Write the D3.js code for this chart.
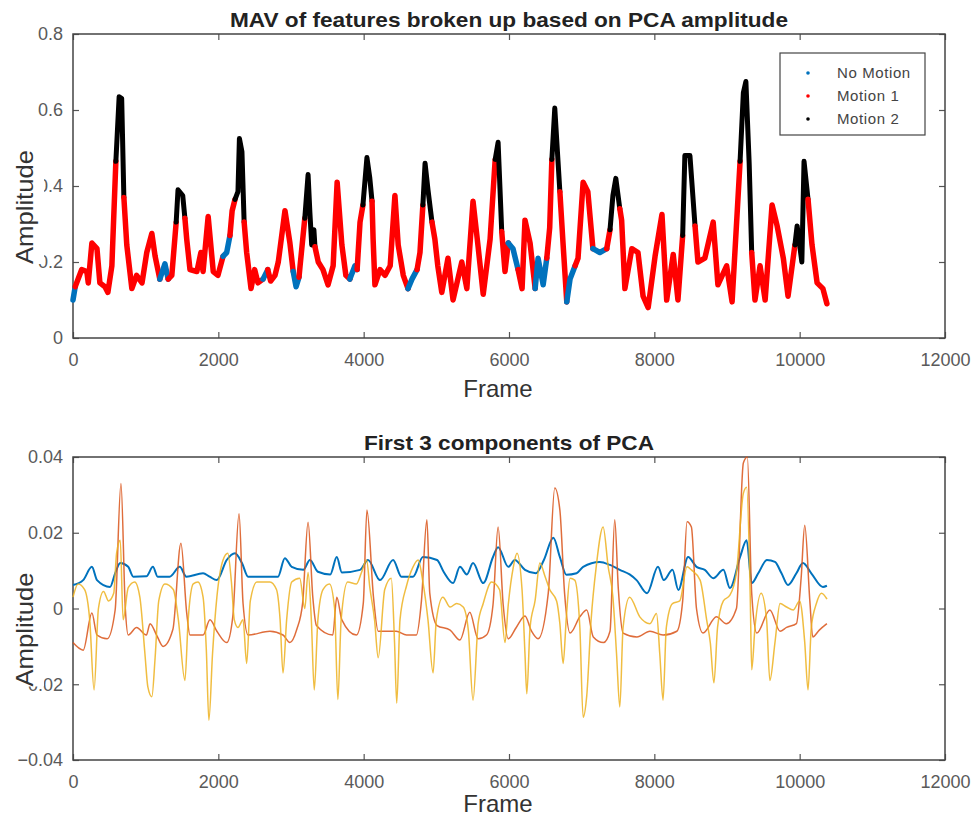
<!DOCTYPE html>
<html>
<head>
<meta charset="utf-8">
<script src="https://cdn.jsdelivr.net/npm/d3@7"></script>
<style>
body { margin: 0; background: #fff; }
svg { font-family: "Liberation Sans", Arial, sans-serif; }
</style>
</head>
<body>
<div id="chart"></div>
<script>
// x ticks shared by both panels
var xTicks = [0, 2000, 4000, 6000, 8000, 10000, 12000];
var topTicks = [0, 0.2, 0.4, 0.6, 0.8];
var botTicks = [-0.04, -0.02, 0, 0.02, 0.04];

var legendLabels = ['No Motion', 'Motion 1', 'Motion 2'];
var classColors = ['#0072BD', '#ff0000', '#000000'];

// [frame, MAV, class] class: 0 no motion, 1 motion 1, 2 motion 2 (class of the run that starts here)
var mavSeries = [
  [0,0.10,0],[30,0.135,1],[120,0.18,1],[190,0.175,1],[210,0.145,1],[260,0.25,1],[330,0.235,1],
  [370,0.145,1],[440,0.135,1],[480,0.12,1],[535,0.19,1],[590,0.465,2],[635,0.635,2],[670,0.63,2],
  [700,0.37,1],[740,0.245,1],[810,0.13,1],[875,0.165,1],[950,0.145,1],[1015,0.225,1],[1085,0.275,1],
  [1130,0.215,1],[1195,0.155,0],[1265,0.195,0],[1310,0.155,1],[1360,0.165,1],[1420,0.305,2],
  [1445,0.39,2],[1510,0.375,2],[1540,0.315,1],[1565,0.26,1],[1610,0.18,1],[1705,0.175,1],
  [1760,0.225,1],[1790,0.175,1],[1860,0.32,1],[1930,0.175,1],[1995,0.165,1],[2065,0.215,0],
  [2115,0.225,0],[2160,0.27,1],[2190,0.335,1],[2230,0.365,2],[2270,0.385,2],[2290,0.525,2],
  [2325,0.49,2],[2355,0.305,1],[2390,0.225,1],[2450,0.13,1],[2500,0.18,1],[2545,0.145,1],
  [2615,0.155,0],[2680,0.18,1],[2720,0.15,1],[2780,0.165,1],[2825,0.2,1],[2917,0.335,1],
  [2985,0.25,1],[3030,0.175,0],[3070,0.135,0],[3110,0.16,1],[3125,0.19,1],[3190,0.315,2],
  [3235,0.43,2],[3260,0.33,2],[3285,0.245,2],[3315,0.285,2],[3330,0.24,1],[3375,0.2,1],
  [3440,0.18,1],[3510,0.14,1],[3580,0.19,1],[3635,0.41,1],[3700,0.245,1],[3755,0.165,1],
  [3810,0.155,0],[3880,0.19,0],[3910,0.18,1],[3950,0.305,1],[3990,0.35,2],[4045,0.475,2],
  [4085,0.42,2],[4115,0.36,1],[4130,0.26,1],[4155,0.14,1],[4225,0.18,1],[4295,0.165,1],
  [4365,0.19,1],[4430,0.375,1],[4475,0.245,1],[4545,0.165,1],[4610,0.13,0],[4665,0.155,0],
  [4735,0.18,1],[4775,0.225,1],[4815,0.35,2],[4845,0.46,2],[4885,0.39,2],[4940,0.305,1],
  [4980,0.26,1],[5020,0.19,1],[5075,0.12,1],[5160,0.21,1],[5230,0.10,1],[5350,0.2,1],
  [5420,0.13,1],[5505,0.36,1],[5575,0.24,1],[5645,0.115,1],[5740,0.26,1],[5810,0.47,2],
  [5850,0.515,2],[5900,0.28,1],[5945,0.175,1],[5990,0.25,0],[6055,0.235,0],[6125,0.18,1],
  [6180,0.13,1],[6220,0.31,1],[6290,0.25,1],[6360,0.13,0],[6400,0.21,0],[6470,0.14,0],
  [6520,0.21,1],[6560,0.29,1],[6590,0.47,2],[6630,0.605,2],[6700,0.385,1],[6740,0.26,1],
  [6795,0.095,0],[6840,0.155,0],[6910,0.19,1],[6950,0.21,1],[7020,0.41,1],[7085,0.385,1],
  [7155,0.235,0],[7250,0.225,0],[7345,0.235,1],[7390,0.285,2],[7430,0.375,2],[7470,0.42,2],
  [7525,0.34,1],[7550,0.31,1],[7595,0.13,1],[7690,0.235,1],[7775,0.225,1],[7845,0.11,1],
  [7915,0.08,1],[8010,0.215,1],[8105,0.325,1],[8170,0.10,1],[8260,0.22,1],[8325,0.10,1],
  [8390,0.27,2],[8420,0.48,2],[8490,0.48,2],[8560,0.295,1],[8600,0.2,1],[8695,0.21,1],
  [8810,0.305,1],[8875,0.14,1],[8995,0.19,1],[9070,0.095,1],[9180,0.465,2],[9225,0.645,2],
  [9260,0.675,2],[9305,0.46,2],[9340,0.225,1],[9385,0.10,1],[9455,0.19,1],[9525,0.10,1],
  [9620,0.35,1],[9690,0.295,1],[9775,0.21,1],[9840,0.11,1],[9935,0.245,2],[9965,0.295,2],
  [10030,0.20,2],[10060,0.465,2],[10115,0.365,1],[10170,0.245,1],[10240,0.145,1],
  [10320,0.13,1],[10375,0.09,1]
];

// [frame, value] first 3 PCA components
var pc1 = [
  [0,0.0062],[140,0.0075],[260,0.011],[330,0.0075],[510,0.0057],[580,0.0093],[650,0.012],[760,0.011],
  [830,0.0084],[1010,0.0085],[1100,0.011],[1165,0.0084],[1330,0.0084],[1470,0.011],[1560,0.0084],
  [1790,0.0093],[1880,0.0084],[1980,0.0075],[2115,0.0128],[2230,0.0146],[2325,0.012],[2410,0.0084],
  [2710,0.0084],[2820,0.0084],[2915,0.0133],[3010,0.011],[3170,0.0102],[3260,0.0128],[3370,0.0097],
  [3540,0.009],[3630,0.0136],[3700,0.0095],[3950,0.0102],[4060,0.0128],[4225,0.0075],[4405,0.0128],
  [4520,0.0084],[4680,0.0084],[4815,0.0136],[5010,0.0128],[5100,0.0097],[5230,0.0067],[5325,0.011],
  [5420,0.009],[5505,0.012],[5645,0.0067],[5780,0.0136],[5850,0.0162],[5990,0.011],[6080,0.0128],
  [6220,0.0102],[6370,0.0093],[6480,0.0128],[6610,0.0187],[6700,0.0136],[6790,0.0089],[6930,0.0093],
  [7020,0.011],[7250,0.0123],[7390,0.0115],[7525,0.0102],[7660,0.009],[7755,0.0075],[7900,0.004],
  [8050,0.011],[8130,0.0075],[8250,0.0102],[8330,0.0049],[8465,0.0136],[8580,0.011],[8695,0.0102],
  [8810,0.008],[8950,0.0102],[9040,0.0054],[9180,0.0136],[9270,0.018],[9340,0.0067],[9430,0.0093],
  [9550,0.0128],[9660,0.0123],[9750,0.0093],[9840,0.0062],[9955,0.0093],[10045,0.012],[10160,0.0093],
  [10320,0.0057],[10375,0.006]
];
var pc2 = [
  [0,-0.009],[140,-0.011],[260,-0.0012],[330,-0.007],[470,-0.008],[580,-0.0004],[660,0.033],[720,0],
  [760,-0.007],[875,-0.005],[1010,-0.007],[1060,-0.004],[1150,-0.007],[1240,-0.010],[1375,-0.0055],
  [1485,0.0172],[1565,-0.0012],[1610,-0.007],[1790,-0.007],[1885,-0.003],[1980,-0.006],[2115,-0.009],
  [2200,-0.002],[2285,0.025],[2340,0.0014],[2410,-0.007],[2710,-0.006],[2890,-0.007],[2985,-0.009],
  [3080,-0.0055],[3160,0.0014],[3235,0.0228],[3300,0.003],[3350,-0.0045],[3575,-0.007],[3630,0.003],
  [3700,-0.003],[3900,-0.007],[3995,0.0014],[4045,0.026],[4135,0.003],[4200,-0.006],[4450,-0.006],
  [4590,-0.007],[4725,-0.007],[4795,0.002],[4870,0.0234],[4910,0.004],[5010,-0.0045],[5190,-0.0057],
  [5325,-0.0083],[5460,-0.001],[5575,-0.008],[5690,-0.007],[5780,0.001],[5850,0.0215],[5920,0.001],
  [5990,-0.008],[6100,-0.005],[6220,-0.002],[6310,-0.006],[6400,-0.008],[6540,0.004],[6630,0.0318],
  [6700,0.026],[6765,0.004],[6840,-0.0065],[6975,-0.0022],[7070,-0.0004],[7160,-0.0075],[7300,-0.009],
  [7390,-0.006],[7455,0.0234],[7505,0.005],[7570,-0.0065],[7760,-0.0075],[7940,-0.006],[8120,-0.007],
  [8310,-0.006],[8390,0.002],[8450,0.0229],[8510,0.0215],[8580,0],[8670,-0.0065],[8855,-0.0022],
  [8990,-0.004],[9130,0],[9225,0.0384],[9280,0.04],[9340,0.004],[9410,-0.0065],[9590,-0.0004],
  [9730,-0.006],[9820,-0.005],[9955,-0.004],[10020,0.008],[10070,0.022],[10140,0.002],[10180,-0.0075],
  [10270,-0.0057],[10375,-0.004]
];
var pc3 = [
  [0,0.003],[70,0.0065],[160,0.005],[230,-0.003],[290,-0.0215],[350,0],[420,0.0045],[490,0.002],
  [560,0.004],[600,0.0146],[650,0.018],[690,-0.003],[760,0.0055],[850,0.007],[920,0.003],[990,-0.012],
  [1030,-0.0207],[1085,-0.0233],[1130,-0.013],[1180,0.002],[1265,0.0065],[1380,0.005],[1450,-0.003],
  [1540,-0.019],[1585,-0.003],[1655,0.0065],[1720,0.007],[1790,0.003],[1835,-0.011],[1870,-0.0295],
  [1920,-0.012],[1980,0.003],[2065,0.0128],[2130,0.0146],[2180,0.007],[2220,-0.003],[2270,-0.005],
  [2340,-0.003],[2390,-0.0145],[2440,0.002],[2530,0.007],[2710,0.007],[2800,0.005],[2850,-0.003],
  [2890,-0.017],[2940,-0.003],[3010,0.007],[3120,0.008],[3190,0],[3235,0.0095],[3280,-0.003],
  [3320,-0.0215],[3370,-0.003],[3440,0.005],[3530,0.0065],[3600,0],[3645,-0.024],[3690,-0.003],
  [3780,0.007],[3900,0.0065],[3970,0.0095],[4040,0.0128],[4085,0.0055],[4150,-0.003],[4200,-0.013],
  [4290,0.005],[4380,0.008],[4425,-0.009],[4455,-0.025],[4500,-0.003],[4590,0.006],[4680,0.011],
  [4750,0.0128],[4815,0.007],[4885,-0.003],[4955,-0.017],[5000,-0.003],[5090,0.003],[5190,0.0004],
  [5280,0.0013],[5370,0.0004],[5440,-0.0057],[5505,-0.0242],[5575,-0.004],[5645,0.0013],[5760,0.007],
  [5870,0.005],[5945,-0.009],[5990,0.001],[6060,0.011],[6110,0.0146],[6180,0.0048],[6220,-0.012],
  [6245,-0.0225],[6290,-0.005],[6360,0.0022],[6425,0.012],[6495,0.0085],[6560,0.005],[6655,0.002],
  [6700,-0.004],[6745,-0.0145],[6790,-0.002],[6840,0.008],[6905,0.0075],[6975,-0.005],[7020,-0.0287],
  [7070,-0.023],[7130,-0.003],[7200,0.011],[7295,0.0215],[7365,0.011],[7430,0.003],[7480,-0.012],
  [7525,-0.026],[7570,-0.005],[7660,0.003],[7800,-0.0022],[7940,-0.004],[8030,-0.0013],[8075,-0.012],
  [8120,-0.0242],[8165,-0.005],[8250,0.0013],[8350,0.002],[8450,0.011],[8510,0.0102],[8630,0.0075],
  [8720,-0.003],[8770,-0.009],[8820,-0.0196],[8870,-0.005],[8950,0.002],[9040,0.0035],[9130,0.0095],
  [9225,0.0304],[9270,0.032],[9320,0.003],[9340,-0.0162],[9385,-0.005],[9470,0.004],[9545,-0.003],
  [9590,-0.019],[9660,-0.009],[9730,0.0013],[9820,0.0004],[9910,-0.0004],[10000,0.002],[10070,-0.009],
  [10115,-0.0215],[10160,-0.005],[10230,0.0013],[10300,0.004],[10375,0.0025]
];
var pcColors = ['#0072BD', '#D95319', '#EDB120'];

var width = 974, height = 816;
var svg = d3.select('#chart').append('svg').attr('width', width).attr('height', height);

var x = d3.scaleLinear().domain([0, 12000]).range([73, 945]);
var yTop = d3.scaleLinear().domain([0, 0.8]).range([338, 34]);
var yBot = d3.scaleLinear().domain([-0.04, 0.04]).range([760, 457]);

function panel(y, yTicks, title, titleY, titleLen, frameY) {
  var g = svg.append('g');
  var y0 = y.range()[0], y1 = y.range()[1];

  g.append('g').attr('transform', 'translate(0,' + y0 + ')')
    .call(d3.axisBottom(x).tickValues(xTicks).tickSize(-6).tickPadding(15).tickFormat(d3.format('d')));
  g.append('g').attr('transform', 'translate(73,0)')
    .call(d3.axisLeft(y).tickValues(yTicks).tickSize(-6).tickPadding(10).tickFormat(function(d) { return d3.format('')(+d.toFixed(2)); }));
  g.append('g').attr('transform', 'translate(0,' + y1 + ')')
    .call(d3.axisTop(x).tickValues(xTicks).tickSize(-6).tickFormat(''));
  g.append('g').attr('transform', 'translate(945,0)')
    .call(d3.axisRight(y).tickValues(yTicks).tickSize(-6).tickFormat(''));
  g.selectAll('.domain').remove();
  g.selectAll('.tick line').attr('stroke', '#555').attr('stroke-width', 1.2);
  g.selectAll('.tick text').attr('font-size', 18).attr('fill', '#5a5a5a')
    .attr('font-family', '"Liberation Sans", Arial, sans-serif');

  g.append('rect').attr('x', 73).attr('y', y1).attr('width', 945 - 73).attr('height', y0 - y1)
    .attr('fill', 'none').attr('stroke', '#444').attr('stroke-width', 1.5);

  g.append('text').attr('x', 509).attr('y', titleY).attr('text-anchor', 'middle')
    .attr('font-size', 21).attr('font-weight', 'bold').attr('fill', '#222')
    .attr('textLength', titleLen).attr('lengthAdjust', 'spacingAndGlyphs').text(title);

  g.append('text').attr('x', 498).attr('y', frameY).attr('text-anchor', 'middle')
    .attr('font-size', 24).attr('fill', '#333').text('Frame');

  // y label sits a bit below the axis centre and hides the leading digits of nearby ticks
  var cy = (y0 + y1) / 2 + 21;
  var lab = g.append('text').attr('transform', 'translate(33,' + cy + ') rotate(-90)')
    .attr('text-anchor', 'middle').attr('font-size', 24).attr('fill', '#333')
    .attr('textLength', 114).attr('lengthAdjust', 'spacingAndGlyphs').text('Amplitude');
  var bb = lab.node().getBBox();
  g.insert('rect', function() { return lab.node(); })
    .attr('x', 12).attr('y', cy - bb.width / 2).attr('width', 32).attr('height', bb.width)
    .attr('fill', '#fff');
  return g;
}

var gTop = panel(yTop, topTicks, 'MAV of features broken up based on PCA amplitude', 27, 558, 397);
var gBot = panel(yBot, botTicks, 'First 3 components of PCA', 450, 290, 812);

// top: MAV split into runs of the same class
var runs = [];
mavSeries.forEach(function(p, i) {
  if (i === mavSeries.length - 1) return;
  var last = runs[runs.length - 1];
  if (last && last.c === p[2]) last.pts.push(mavSeries[i + 1]);
  else runs.push({ c: p[2], pts: [p, mavSeries[i + 1]] });
});
var lineTop = d3.line().x(function(d) { return x(d[0]); }).y(function(d) { return yTop(d[1]); });
gTop.append('g').selectAll('path').data(runs).enter().append('path')
  .attr('d', function(d) { return lineTop(d.pts); })
  .attr('fill', 'none')
  .attr('stroke', function(d) { return classColors[d.c]; })
  .attr('stroke-width', function(d) { return d.c === 2 ? 5 : 5.5; })
  .attr('stroke-linejoin', 'round').attr('stroke-linecap', 'round');

// legend
var lg = gTop.append('g');
lg.append('rect').attr('x', 780).attr('y', 53).attr('width', 145).attr('height', 82)
  .attr('fill', '#fff').attr('stroke', '#444').attr('stroke-width', 1.2);
legendLabels.forEach(function(l, i) {
  lg.append('circle').attr('cx', 808).attr('cy', 73 + i * 23).attr('r', 1.8).attr('fill', classColors[i]);
  lg.append('text').attr('x', 837).attr('y', 73 + i * 23).attr('dy', '0.35em')
    .attr('font-size', 15).attr('fill', '#444').attr('letter-spacing', 0.6).text(l);
});

// bottom: three PCA components
var lineBot = d3.line().x(function(d) { return x(d[0]); }).y(function(d) { return yBot(d[1]); })
  .curve(d3.curveMonotoneX);
gBot.append('g').selectAll('path').data([pc1, pc2, pc3]).enter().append('path')
  .attr('d', lineBot)
  .attr('fill', 'none')
  .attr('stroke', function(d, i) { return pcColors[i]; })
  .attr('stroke-width', function(d, i) { return i === 0 ? 2 : 1.5; })
  .attr('stroke-opacity', function(d, i) { return i === 0 ? 1 : 0.85; })
  .attr('stroke-linejoin', 'round');
</script>
</body>
</html>
